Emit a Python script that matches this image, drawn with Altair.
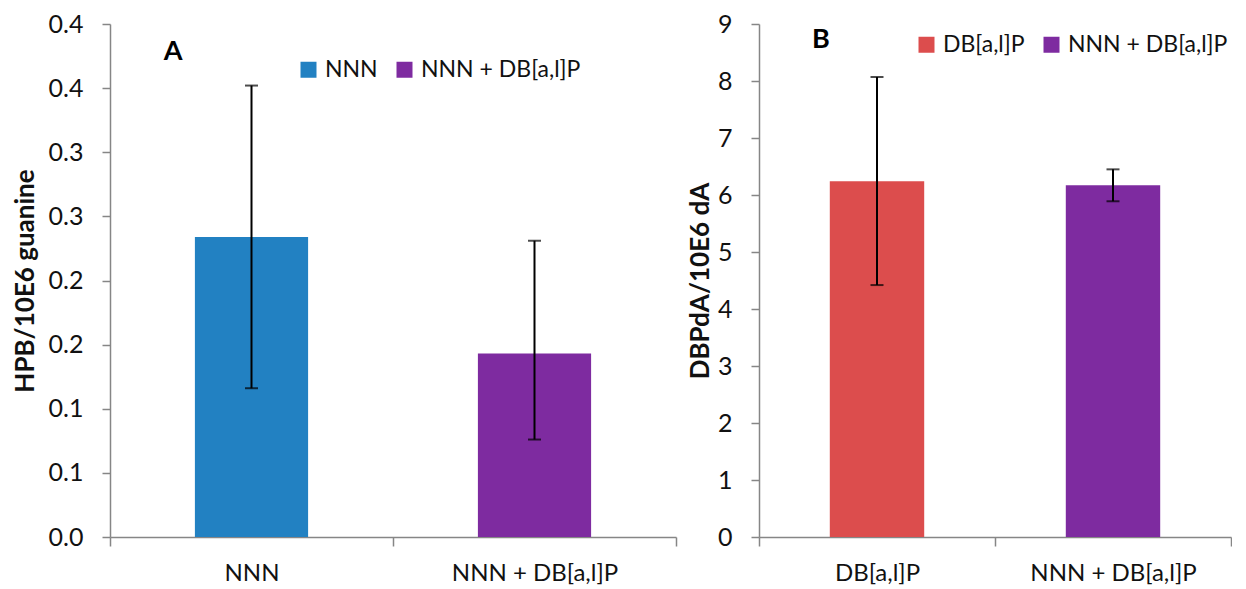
import altair as alt
import pandas as pd

# ---- Panel A data ----
cats_a = ["NNN", "NNN + DB[a,l]P"]
mean_a = [0.234, 0.143]
lo_a = [0.116, 0.076]
hi_a = [0.352, 0.231]
colors_a = ["#2281C2", "#7E2BA0"]
yticks_a = [0, 0.05, 0.1, 0.15, 0.2, 0.25, 0.3, 0.35, 0.4]
ylabels_a = ["0.0", "0.1", "0.1", "0.2", "0.2", "0.3", "0.3", "0.4", "0.4"]

# ---- Panel B data ----
cats_b = ["DB[a,l]P", "NNN + DB[a,l]P"]
mean_b = [6.24, 6.17]
lo_b = [4.42, 5.89]
hi_b = [8.07, 6.45]
colors_b = ["#DC4D4D", "#7E2BA0"]
yticks_b = [0, 1, 2, 3, 4, 5, 6, 7, 8, 9]
ylabels_b = ["0", "1", "2", "3", "4", "5", "6", "7", "8", "9"]

FONT = "Lato"
AXIS_GRAY = "#868686"
TEXT = "#111111"
H = 513


def panel(cats, mean, lo, hi, colors, ymax, yticks, ylabels, ytitle,
          letter, W, title_x, leg_x, leg_y, let_x, let_y):
    df = pd.DataFrame({"cat": cats, "mean": mean, "lo": lo, "hi": hi})
    step = yticks[1] - yticks[0]
    lab_arr = "[" + ",".join("'" + s + "'" for s in ylabels) + "]"
    x = alt.X(
        "cat:N", sort=cats,
        scale=alt.Scale(paddingInner=0, paddingOuter=0),
        axis=alt.Axis(
            title=None, tickBand="extent", domainColor=AXIS_GRAY,
            domainWidth=1.5, tickColor=AXIS_GRAY, tickWidth=1.5, tickSize=9,
            labelFont=FONT, labelFontSize=24, labelColor=TEXT,
            labelPadding=15, labelAngle=0, labelLimit=0,
        ),
    )
    y = alt.Y(
        "mean:Q",
        scale=alt.Scale(domain=[0, ymax], nice=False, zero=True),
        axis=alt.Axis(
            values=yticks, grid=False,
            labelExpr=lab_arr + "[round(datum.value/" + str(step) + ")]",
            domainColor=AXIS_GRAY, domainWidth=1.5, tickColor=AXIS_GRAY,
            tickWidth=1.5, tickSize=8, labelFont=FONT, labelFontSize=25,
            labelColor=TEXT, labelPadding=19, title=ytitle,
            titleFont=FONT, titleFontSize=26, titleFontWeight="bold",
            titleColor=TEXT, titleX=title_x, titleLimit=0,
        ),
    )
    bars = alt.Chart(df).mark_bar(width=alt.RelativeBandSize(0.4)).encode(
        x=x, y=y,
        color=alt.Color(
            "cat:N",
            scale=alt.Scale(domain=cats, range=colors),
            legend=alt.Legend(
                title=None, orient="none", legendX=leg_x, legendY=leg_y,
                direction="horizontal", symbolType="square", symbolSize=256,
                symbolStrokeWidth=0, labelFont=FONT, labelFontSize=23,
                labelColor=TEXT, labelOffset=5, columnPadding=15, padding=0,
                labelLimit=0,
            ),
        ),
    )
    rule = alt.Chart(df).mark_rule(color="black", strokeWidth=2).encode(
        x=alt.X("cat:N", sort=cats), y="lo:Q", y2="hi:Q"
    )
    cap_lo = alt.Chart(df).mark_tick(color="black", thickness=2, size=13).encode(
        x=alt.X("cat:N", sort=cats), y="lo:Q"
    )
    cap_hi = alt.Chart(df).mark_tick(color="black", thickness=2, size=13).encode(
        x=alt.X("cat:N", sort=cats), y="hi:Q"
    )
    lbl = alt.Chart(pd.DataFrame({"t": [letter]})).mark_text(
        font=FONT, fontSize=27, fontWeight="bold", color="black",
        align="center", baseline="middle"
    ).encode(text="t:N", x=alt.value(let_x), y=alt.value(let_y))
    return alt.layer(bars, rule, cap_lo, cap_hi, lbl).properties(width=W, height=H)


left = panel(cats_a, mean_a, lo_a, hi_a, colors_a, 0.4, yticks_a, ylabels_a,
             "HPB/10E6 guanine", "A", 566, -72, 187, 34, 63, 28)
right = panel(cats_b, mean_b, lo_b, hi_b, colors_b, 9, yticks_b, ylabels_b,
              "DBPdA/10E6 dA", "B", 472, -46, 156, 9, 62, 16)

chart = alt.hconcat(left, right, spacing=83, bounds="flush").resolve_scale(
    color="independent"
).resolve_legend(color="independent").properties(
    padding={"left": 4, "top": 4, "right": 0, "bottom": 0}
).configure_view(stroke=None)

chart.save("out.html", embed_options={"renderer": "svg", "actions": False})
